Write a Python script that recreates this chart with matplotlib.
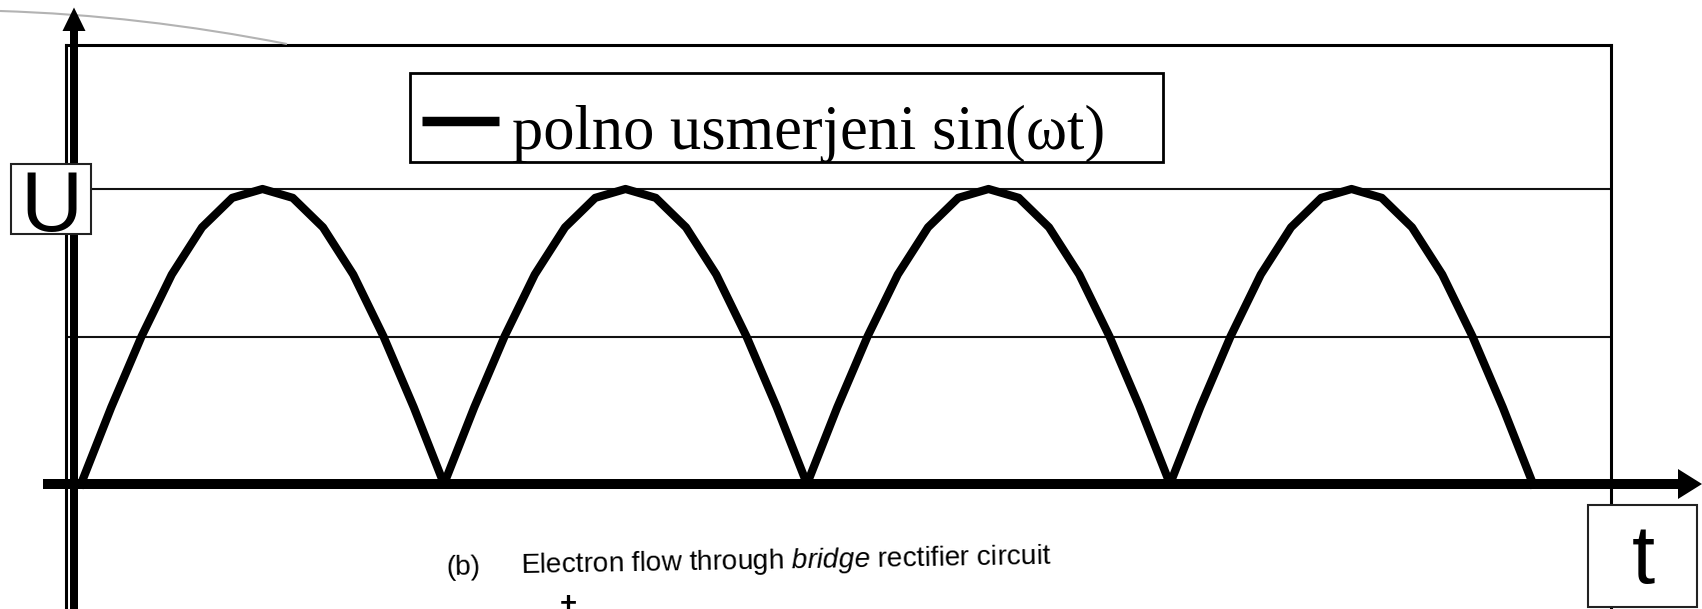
import matplotlib
matplotlib.use("Agg")
import matplotlib.pyplot as plt
from matplotlib.transforms import Affine2D
from matplotlib.patches import Rectangle, Polygon, PathPatch
from matplotlib.path import Path
from matplotlib.lines import Line2D

# ---------------- data ----------------
phase_deg = [0, 15, 30, 45, 60, 75, 90, 105, 120, 135, 150, 165,
             180, 195, 210, 225, 240, 255, 270, 285, 300, 315, 330, 345,
             360, 375, 390, 405, 420, 435, 450, 465, 480, 495, 510, 525,
             540, 555, 570, 585, 600, 615, 630, 645, 660, 675, 690, 705, 720]
voltage = [0.0, 0.26, 0.5, 0.71, 0.87, 0.97, 1.0, 0.97, 0.87, 0.71, 0.5, 0.26,
           0.0, 0.26, 0.5, 0.71, 0.87, 0.97, 1.0, 0.97, 0.87, 0.71, 0.5, 0.26,
           0.0, 0.26, 0.5, 0.71, 0.87, 0.97, 1.0, 0.97, 0.87, 0.71, 0.5, 0.26,
           0.0, 0.26, 0.5, 0.71, 0.87, 0.97, 1.0, 0.97, 0.87, 0.71, 0.5, 0.26,
           0.0]
gridline_levels = [0.5, 1.0]
legend_label = "polno usmerjeni sin(\u03c9t)"
y_label = "U"
x_label = "t"
caption_tag = "(b)"
caption = r"Electron flow through $\it{bridge}$ rectifier circuit"

# ---------------- figure / pixel helpers ----------------
W, H = 1702, 609
plt.rcParams["mathtext.fontset"] = "custom"
plt.rcParams["mathtext.rm"] = "Liberation Sans"
plt.rcParams["mathtext.it"] = "Liberation Sans:italic"

fig = plt.figure(figsize=(W / 100, H / 100), dpi=100)
PX = Affine2D().scale(1 / W, -1 / H).translate(0, 1) + fig.transFigure

# layout in pixels
AX_L, AX_R, AX_T, AX_B = 66, 1611, 45, 609
X0_PX, PX_PER_DEG = 81, 2.0167
Y0_PX, PX_PER_UNIT = 484, 295

ax = fig.add_axes([AX_L / W, 1 - AX_B / H, (AX_R - AX_L) / W, (AX_B - AX_T) / H])
ax.set_xlim((AX_L - X0_PX) / PX_PER_DEG, (AX_R - X0_PX) / PX_PER_DEG)
ax.set_ylim((Y0_PX - AX_B) / PX_PER_UNIT, (Y0_PX - AX_T) / PX_PER_UNIT)
ax.set_facecolor("white")
for side in ("top", "left", "right"):
    ax.spines[side].set_linewidth(2.2)
    ax.spines[side].set_color("black")
ax.spines["bottom"].set_visible(False)
ax.set_xticks([])
ax.set_yticks([])
for lvl in gridline_levels:
    ax.axhline(lvl, color="#111111", lw=1.5, zorder=1)

ax.plot(phase_deg, voltage, color="black", lw=5.9,
        solid_joinstyle="round", zorder=3, clip_on=False)

# ---------------- gray arc (background artefact) ----------------
arc = Path([(0, 11), (140, 15.2), (287, 44)], [Path.MOVETO, Path.CURVE3, Path.CURVE3])
fig.add_artist(PathPatch(arc, transform=PX, fill=False, edgecolor="#b3b3b3", lw=1.5, zorder=0.5))

# ---------------- axes arrows ----------------
x_arrow = [(43, 479), (1678, 479), (1678, 469), (1702, 484), (1678, 499), (1678, 489), (43, 489)]
fig.add_artist(Polygon(x_arrow, closed=True, transform=PX, facecolor="black",
                       edgecolor="none", zorder=5))
y_arrow = [(70, 640), (70, 31), (62.5, 31), (74, 7.5), (85.5, 31), (78, 31), (78, 640)]
fig.add_artist(Polygon(y_arrow, closed=True, transform=PX, facecolor="black",
                       edgecolor="none", zorder=5))

# ---------------- legend ----------------
fig.add_artist(Rectangle((410, 72.5), 753, 89.5, transform=PX, facecolor="white",
                         edgecolor="black", lw=2.0, zorder=6))
fig.add_artist(Line2D([421.5, 499], [120.7, 120.7], transform=PX, color="black",
                      lw=6.8, solid_capstyle="butt", zorder=7))
fig.text(512, 149, legend_label, transform=PX, fontsize=45,
         family="Liberation Serif", ha="left", va="baseline", zorder=7)

# ---------------- axis label boxes ----------------
fig.add_artist(Rectangle((11, 164), 80, 70, transform=PX, facecolor="white",
                         edgecolor="#222222", lw=1.5, zorder=8))
fig.text(51, 231.5, y_label, transform=PX, fontsize=62, family="Liberation Sans",
         ha="center", va="baseline", zorder=9)

fig.add_artist(Rectangle((1588, 505), 109, 102, transform=PX, facecolor="white",
                         edgecolor="#222222", lw=1.5, zorder=8))
fig.text(1643, 583.5, x_label, transform=PX, fontsize=60, family="Liberation Sans",
         ha="center", va="baseline", zorder=9)

# ---------------- caption fragment at the bottom ----------------
fig.text(446, 575, caption_tag, transform=PX, fontsize=20.2, family="Liberation Sans",
         ha="left", va="baseline", rotation=1.0, rotation_mode="anchor", zorder=9)
fig.text(521, 573, caption, transform=PX, fontsize=20.2, family="Liberation Sans",
         ha="left", va="baseline", rotation=1.0, rotation_mode="anchor", zorder=9)
fig.text(568, 612, "+", transform=PX, fontsize=21, family="Liberation Sans",
         fontweight="bold", ha="center", va="baseline", zorder=9)

fig.savefig("out.png", dpi=100, facecolor="white")
